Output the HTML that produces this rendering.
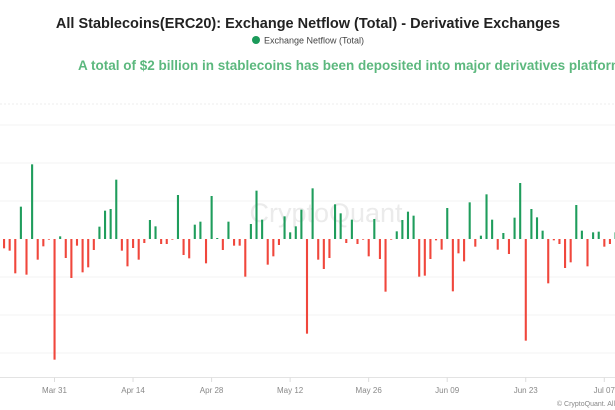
<!DOCTYPE html>
<html><head><meta charset="utf-8">
<style>
html,body{margin:0;padding:0;background:#fff;width:615px;height:410px;overflow:hidden}
svg{display:block;font-family:"Liberation Sans",sans-serif}
</style></head>
<body>
<svg width="615" height="410" viewBox="0 0 615 410">
<text x="308" y="28" text-anchor="middle" font-size="14.5" font-weight="bold" fill="#222">All Stablecoins(ERC20): Exchange Netflow (Total) - Derivative Exchanges</text>
<g>
<circle cx="256" cy="40" r="4" fill="#1b9a5a"/>
<text x="264" y="43.5" font-size="9" fill="#444">Exchange Netflow (Total)</text>
</g>
<text x="78" y="70" font-size="13.5" font-weight="bold" fill="#5cb87e">A total of $2 billion in stablecoins has been deposited into major derivatives platforms</text>
<line x1="0" y1="104" x2="615" y2="104" stroke="#eee" stroke-dasharray="2,2"/>
<g id="grid"></g>
<text x="326" y="222" text-anchor="middle" font-size="27" fill="#ebebeb">CryptoQuant</text>
<g id="bars"></g>
<line x1="0" y1="377.5" x2="615" y2="377.5" stroke="#e3e3e3"/>
<g id="xaxis"></g>
<text x="615" y="406" text-anchor="end" font-size="7" fill="#888">© CryptoQuant. All</text>
</svg>
<script>
// Daily netflow estimates (units: ~0.88 M USD), starting Mar 21
const startLabel = "Mar 21";
const netflow = [68,
-28,-35,-103,97,-107,224,-62,-22,-2,-362,8,-57,-117,-20,-100,-85,-33,37,85,90,178,-35,-82,-27,-62,-12,57,38,-15,-15,-2,132,-48,-58,43,52,-73,129,3,-33,52,-20,-20,-113,45,145,58,-77,-52,-18,68,20,38,88,
-284,152,-62,-90,-57,104,77,-12,58,-15,-2,-52,60,-60,-158,-2,23,57,82,70,-113,-110,-60,-4,-32,93,-157,-43,-67,110,-23,10,134,58,-32,18,-45,64,168,-305,90,65,25,-133,-4,-15,-87,-70,102,25,-82,20,22,-23,-15,20];
const tickLabels = ["Mar 31","Apr 14","Apr 28","May 12","May 26","Jun 09","Jun 23","Jul 07"];
const tickDayIndex = [10,24,38,52,66,80,94,108];
const gridValues = [-342,-228,-114,114,228,342];

const NS="http://www.w3.org/2000/svg";
const x = i => -1.6 + i*5.61;
const y = v => 239 - v/3;
const grid=document.getElementById('grid');
gridValues.forEach(g=>{
  const l=document.createElementNS(NS,'line');
  l.setAttribute('x1',0);l.setAttribute('x2',615);
  l.setAttribute('y1',y(g));l.setAttribute('y2',y(g));
  l.setAttribute('stroke','#f3f3f3');
  
  
  grid.appendChild(l);
});
const bars=document.getElementById('bars');
netflow.forEach((v,i)=>{
  const r=document.createElementNS(NS,'rect');
  const y0=y(Math.max(v,0)), h=Math.max(Math.abs(y(v)-y(0)),0.6);
  r.setAttribute('x',x(i)-1);r.setAttribute('width',2.1);
  r.setAttribute('y',y0);r.setAttribute('height',h);
  r.setAttribute('fill',v>=0?'#1f9d5c':'#f0473c');
  
  
  bars.appendChild(r);
});
const xa=document.getElementById('xaxis');
tickLabels.forEach((t,k)=>{
  const tx=x(tickDayIndex[k]);
  const l=document.createElementNS(NS,'line');
  l.setAttribute('x1',tx);l.setAttribute('x2',tx);l.setAttribute('y1',377.5);l.setAttribute('y2',382);
  l.setAttribute('stroke','#ddd');
  
  
  xa.appendChild(l);
  const s=document.createElementNS(NS,'text');
  s.setAttribute('x',tx);s.setAttribute('y',393);s.setAttribute('text-anchor','middle');
  s.setAttribute('font-size','8');s.setAttribute('fill','#888');
  s.textContent=t;
  
  
  xa.appendChild(s);
});
</script>
</body></html>
